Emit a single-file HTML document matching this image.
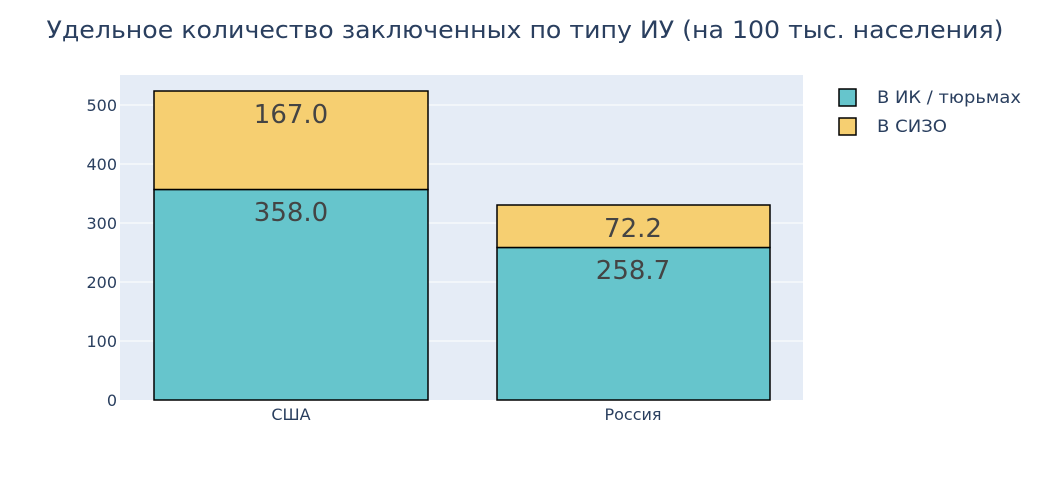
<!DOCTYPE html>
<html><head><meta charset="utf-8"><style>body{margin:0;background:#fff}</style></head><body>
<svg width="1050" height="480" xmlns="http://www.w3.org/2000/svg" font-family="'DejaVu Sans',sans-serif">
<rect width="1050" height="480" fill="#fff"/>
<text x="525" y="38" text-anchor="middle" font-size="24" fill="#2a3f5f" textLength="957" lengthAdjust="spacingAndGlyphs">Удельное количество заключенных по типу ИУ (на 100 тыс. населения)</text>
<rect x="120" y="75" width="683" height="325" fill="#e5ecf6"/>
<g stroke="#fff" stroke-width="1">
<line x1="120" x2="803" y1="341" y2="341"/>
<line x1="120" x2="803" y1="282" y2="282"/>
<line x1="120" x2="803" y1="223" y2="223"/>
<line x1="120" x2="803" y1="164" y2="164"/>
<line x1="120" x2="803" y1="105" y2="105"/>
</g>
<g font-size="16" fill="#2a3f5f" text-anchor="end">
<text x="117" y="406">0</text>
<text x="117" y="347">100</text>
<text x="117" y="288">200</text>
<text x="117" y="229">300</text>
<text x="117" y="170">400</text>
<text x="117" y="111">500</text>
</g>
<g stroke="#000" stroke-width="1.5">
<rect x="154" y="189.5" width="274" height="210.5" fill="#66c5cc"/>
<rect x="154" y="91" width="274" height="98.5" fill="#f6cf71"/>
<rect x="497" y="247.5" width="273" height="152.5" fill="#66c5cc"/>
<rect x="497" y="205" width="273" height="42.5" fill="#f6cf71"/>
</g>
<g font-size="26" fill="#444" text-anchor="middle">
<text x="291" y="123">167.0</text>
<text x="291" y="221">358.0</text>
<text x="633" y="237">72.2</text>
<text x="633" y="279">258.7</text>
</g>
<g font-size="16" fill="#2a3f5f" text-anchor="middle">
<text x="291" y="420">США</text>
<text x="633" y="420">Россия</text>
</g>
<rect x="839" y="89" width="17" height="17" fill="#66c5cc" stroke="#000" stroke-width="1.5"/>
<rect x="839" y="118" width="17" height="17" fill="#f6cf71" stroke="#000" stroke-width="1.5"/>
<g font-size="16.5" fill="#2a3f5f">
<text x="877" y="103" textLength="144" lengthAdjust="spacingAndGlyphs">В ИК / тюрьмах</text>
<text x="877" y="132" textLength="70" lengthAdjust="spacingAndGlyphs">В СИЗО</text>
</g>
</svg>
</body></html>
